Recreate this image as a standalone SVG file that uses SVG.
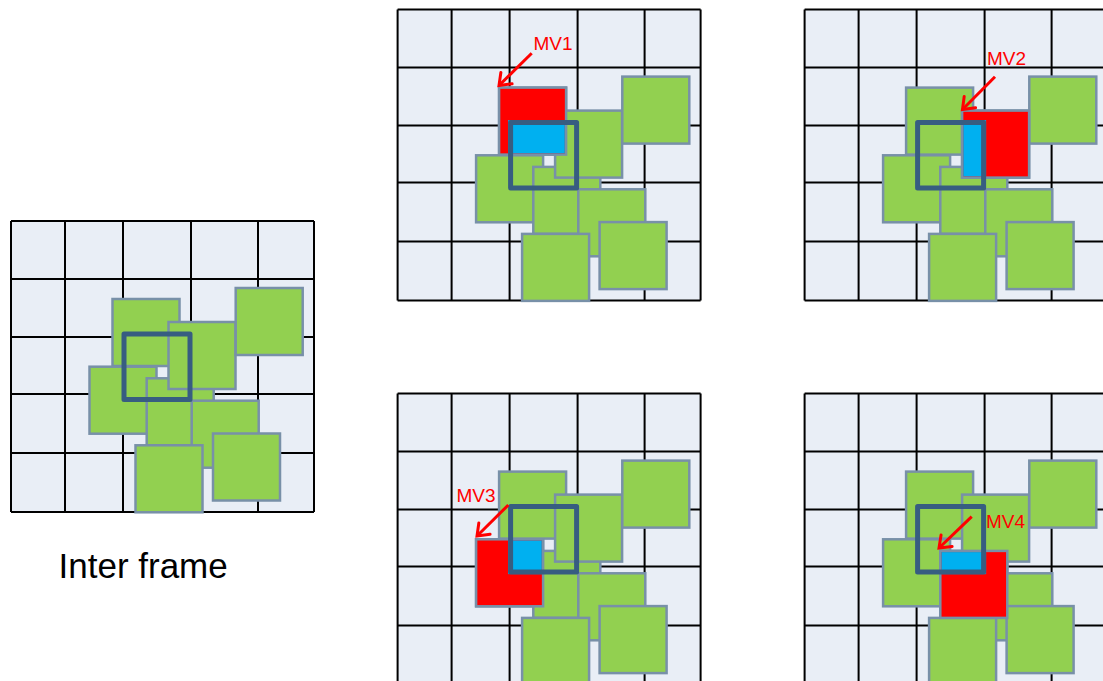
<svg xmlns="http://www.w3.org/2000/svg" xmlns:xlink="http://www.w3.org/1999/xlink" width="1103" height="681" viewBox="0 0 1103 681">
<style>
.cell{fill:#e9eef6;stroke:none}
.gl{stroke:#000;stroke-width:2;fill:none}
.sq{fill:#92d050;stroke:#7890a8;stroke-width:2.5}
.red{fill:#ff0000;stroke:#7890a8;stroke-width:2.5}
.blue{fill:#00b0f0;stroke:none}
.thick{fill:none;stroke:#375d81;stroke-width:5;stroke-linejoin:round}
.mv{font-family:"Liberation Sans",Arial,sans-serif;font-size:19px;fill:#ff0000}
.arr{stroke:#ff0000;stroke-width:3;fill:none;marker-end:url(#ah)}
.lbl{font-family:"Liberation Sans",Arial,sans-serif;font-size:35px;fill:#000}
</style>
<defs>
<marker id="ah" markerUnits="userSpaceOnUse" viewBox="-16 -12 20 24" markerWidth="20" markerHeight="24" refX="0" refY="0" orient="auto">
<path d="M-10.5,-8 L0,0 L-10.5,8" fill="none" stroke="#ff0000" stroke-width="3" stroke-linecap="round"/>
</marker>
<g id="base">
<rect class="cell" x="11" y="221" width="303" height="291"/>
<path class="gl" d="M11,221V512M65,221V512M123,221V512M191,221V512M258,221V512M314,221V512M11,221H314M11,279H314M11,337H314M11,394H314M11,453H314M11,512H314"/>
<rect class="sq" x="112.5" y="299" width="67" height="67"/>
<rect class="sq" x="89.5" y="366.7" width="67" height="67"/>
<rect class="sq" x="146.7" y="378.3" width="67" height="67"/>
<rect class="sq" x="168.5" y="322" width="67" height="67"/>
<rect class="sq" x="191.7" y="400.7" width="67" height="67"/>
<rect class="sq" x="235.7" y="288" width="67" height="67"/>
<rect class="sq" x="135.5" y="445.3" width="67" height="67"/>
<rect class="sq" x="213" y="433.5" width="67" height="67"/>
</g>
</defs>
<g id="inter-frame">
<use xlink:href="#base"/>
<rect class="thick" x="124" y="334" width="66" height="65.5"/>
<text class="lbl" x="58.5" y="578">Inter frame</text>
</g>
<g id="panel-mv1" transform="translate(386.6,-211.4)">
<use xlink:href="#base"/>
<rect class="red" x="112.5" y="299" width="67" height="67"/>
<rect class="blue" x="121.5" y="331.5" width="56.7" height="33.2"/>
<rect class="thick" x="124" y="334" width="66" height="65.5"/>
</g>
<g id="panel-mv2" transform="translate(793.6,-211.4)">
<use xlink:href="#base"/>
<rect class="red" x="168.5" y="322" width="67" height="67"/>
<rect class="blue" x="169.7" y="331.5" width="22.8" height="56.2"/>
<rect class="thick" x="124" y="334" width="66" height="65.5"/>
</g>
<g id="panel-mv3" transform="translate(386.6,172.6)">
<use xlink:href="#base"/>
<rect class="red" x="89.5" y="366.7" width="67" height="67"/>
<rect class="blue" x="121.5" y="367.9" width="33.7" height="33.6"/>
<rect class="thick" x="124" y="334" width="66" height="65.5"/>
</g>
<g id="panel-mv4" transform="translate(793.6,172.6)">
<use xlink:href="#base"/>
<rect class="red" x="146.7" y="378.3" width="67" height="67"/>
<rect class="blue" x="147.9" y="379.5" width="44.6" height="22"/>
<rect class="thick" x="124" y="334" width="66" height="65.5"/>
</g>
<g id="connectors">
<line class="arr" x1="531.7" y1="53.3" x2="499" y2="85.5"/>
<line class="arr" x1="995" y1="76.7" x2="962.5" y2="109.5"/>
<line class="arr" x1="508.3" y1="505" x2="477" y2="536"/>
<line class="arr" x1="971.7" y1="516.7" x2="939" y2="548"/>
</g>
<g id="labels">
<text class="mv" x="533.5" y="50">MV1</text>
<text class="mv" x="987" y="65">MV2</text>
<text class="mv" x="456.5" y="501.7">MV3</text>
<text class="mv" x="986" y="527.7">MV4</text>
</g>
</svg>
